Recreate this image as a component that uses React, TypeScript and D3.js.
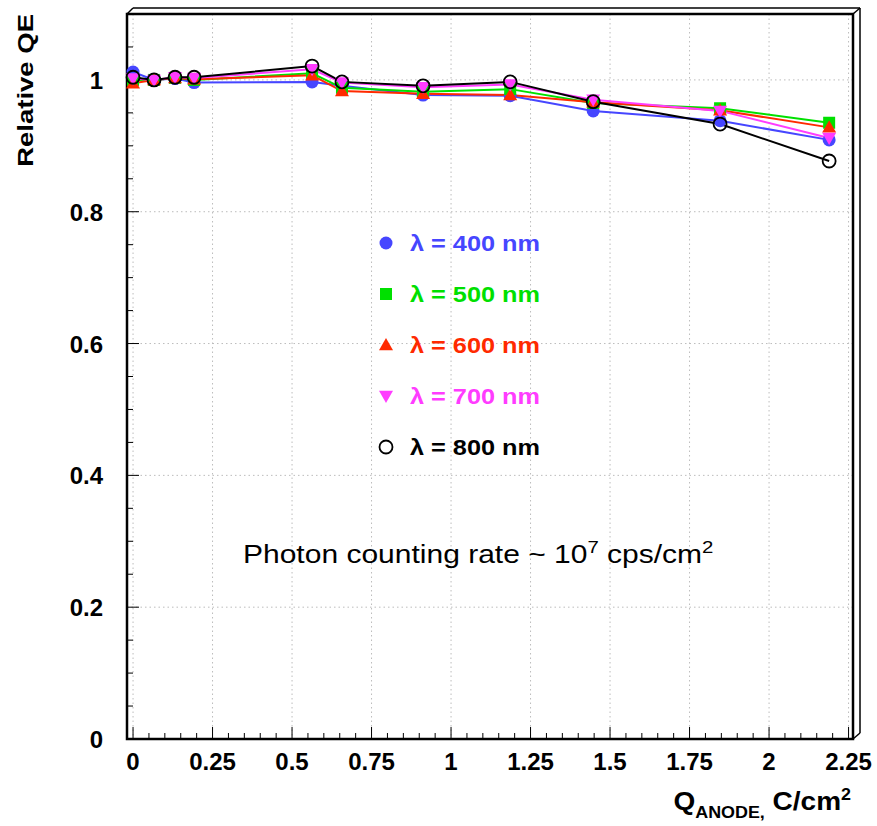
import React from "react";
import * as d3 from "d3";

const qAnode = [0, 0.066, 0.132, 0.192, 0.563, 0.657, 0.912, 1.186, 1.447, 1.846, 2.189];
const qe400 = [1.012, 1.0, 1.002, 0.996, 0.997, 0.991, 0.977, 0.976, 0.953, 0.938, 0.909];
const qe500 = [1.0, 1.0, 1.003, 1.0, 1.01, 0.988, 0.982, 0.986, 0.965, 0.957, 0.935];
const qe600 = [0.995, 1.0, 1.003, 1.001, 1.007, 0.983, 0.979, 0.977, 0.966, 0.954, 0.928];
const qe700 = [1.002, 1.0, 1.004, 1.003, 1.016, 0.996, 0.989, 0.993, 0.97, 0.953, 0.912];
const qe800 = [1.004, 1.0, 1.004, 1.004, 1.021, 0.997, 0.991, 0.997, 0.967, 0.933, 0.877];

const seriesNames = ["λ = 400 nm", "λ = 500 nm", "λ = 600 nm", "λ = 700 nm", "λ = 800 nm"];
const seriesColors = ["#4646ff", "#00e000", "#ff2a00", "#ff3cff", "#000000"];
const seriesMarkers = ["circle", "square", "triangleUp", "triangleDown", "openCircle"];
const seriesValues = [qe400, qe500, qe600, qe700, qe800];

const xTicks = [0, 0.25, 0.5, 0.75, 1, 1.25, 1.5, 1.75, 2, 2.25];
const xTickLabels = ["0", "0.25", "0.5", "0.75", "1", "1.25", "1.5", "1.75", "2", "2.25"];
const yTicks = [0, 0.2, 0.4, 0.6, 0.8, 1];
const yTickLabels = ["0", "0.2", "0.4", "0.6", "0.8", "1"];

const W = 877;
const H = 826;
const left = 127, right = 853, top = 14, bottom = 739;

const x = d3.scaleLinear().domain([-0.019, 2.264]).range([left, right]);
const y = d3.scaleLinear().domain([0, 1.1]).range([bottom, top]);

function Marker({ type, cx, cy, color }: { type: string; cx: number; cy: number; color: string }) {
  if (type === "circle") return <circle cx={cx} cy={cy} r={6.5} fill={color} />;
  if (type === "openCircle")
    return <circle cx={cx} cy={cy} r={6.5} fill="none" stroke={color} strokeWidth={1.8} />;
  if (type === "square") return <rect x={cx - 6} y={cy - 6} width={12} height={12} fill={color} />;
  const s = 7;
  if (type === "triangleUp")
    return <path d={`M${cx},${cy - s} L${cx + s},${cy + s * 0.75} L${cx - s},${cy + s * 0.75}Z`} fill={color} />;
  return <path d={`M${cx},${cy + s} L${cx + s},${cy - s * 0.75} L${cx - s},${cy - s * 0.75}Z`} fill={color} />;
}

export default function App() {
  const line = d3
    .line<number>()
    .x((_, i) => x(qAnode[i]))
    .y((d) => y(d));

  const xMinor = d3.range(0, 2.2501, 0.05);
  const yMinor = d3.range(0, 1.1001, 0.05);
  const font = "'Liberation Sans', Arial, Helvetica, sans-serif";
  const legendY = [243, 294, 345, 396, 447];

  return (
    <svg
      width={W}
      height={H}
      style={{ position: "absolute", left: 0, top: 0, background: "#fff" }}
      fontFamily={font}
    >
      <rect x={0} y={0} width={W} height={H} fill="#fff" />
      {/* grid */}
      <g stroke="#bcbcbc" strokeWidth={1} strokeDasharray="1.5,3">
        {xTicks.map((t) => (
          <line key={"gx" + t} x1={x(t)} x2={x(t)} y1={top} y2={bottom} />
        ))}
        {yTicks.map((t) => (
          <line key={"gy" + t} x1={left} x2={right} y1={y(t)} y2={y(t)} />
        ))}
      </g>
      {/* ticks */}
      <g stroke="#000" strokeWidth={1}>
        {xMinor.map((t, i) => {
          const major = i % 5 === 0;
          return <line key={"tx" + i} x1={x(t)} x2={x(t)} y1={bottom} y2={bottom - (major ? 12 : 6)} />;
        })}
        {yMinor.map((t, i) => {
          const major = i % 4 === 0;
          return <line key={"ty" + i} x1={left} x2={left + (major ? 12 : 6)} y1={y(t)} y2={y(t)} />;
        })}
      </g>
      {/* frame with 3D edge */}
      <g fill="none" stroke="#000">
        <line x1={left + 6} y1={top - 6} x2={right + 7} y2={top - 6} strokeWidth={1.5} />
        <line x1={right + 7} y1={top - 6} x2={right + 7} y2={bottom - 6} strokeWidth={1.5} />
        <line x1={left} y1={top} x2={left + 6} y2={top - 6} strokeWidth={1.5} />
        <line x1={right} y1={top} x2={right + 7} y2={top - 6} strokeWidth={1.5} />
        <line x1={right} y1={bottom} x2={right + 7} y2={bottom - 6} strokeWidth={1.5} />
        <rect x={left} y={top} width={right - left} height={bottom - top} strokeWidth={2.5} />
      </g>
      {/* series lines */}
      {seriesValues.map((vals, si) => (
        <path key={"l" + si} d={line(vals) || ""} fill="none" stroke={seriesColors[si]} strokeWidth={2} />
      ))}
      {/* markers */}
      {seriesValues.map((vals, si) => (
        <g key={"m" + si}>
          {vals.map((v, i) => (
            <Marker key={i} type={seriesMarkers[si]} cx={x(qAnode[i])} cy={y(v)} color={seriesColors[si]} />
          ))}
        </g>
      ))}
      {/* tick labels */}
      <g fontSize={24} fontWeight="bold" fill="#000">
        {xTicks.map((t, i) => (
          <text key={"xl" + i} x={x(t)} y={770} textAnchor="middle">
            {xTickLabels[i]}
          </text>
        ))}
        {yTicks.map((t, i) => (
          <text key={"yl" + i} x={103} y={y(t) + 9} textAnchor="end">
            {yTickLabels[i]}
          </text>
        ))}
      </g>
      {/* axis titles */}
      <text
        transform="translate(33,14) rotate(-90) scale(1.25,1)"
        textAnchor="end"
        fontSize={22}
        fontWeight="bold"
      >
        Relative QE
      </text>
      <g transform="translate(851,810) scale(1.12,1)">
        <text x={0} y={0} textAnchor="end" fontWeight="bold" fontSize={25}>
          Q<tspan fontSize={16} dy={8}>ANODE,</tspan>
          <tspan dy={-8}> C/cm</tspan>
          <tspan fontSize={16} dy={-10}>2</tspan>
        </text>
      </g>
      {/* annotation */}
      <g transform="translate(243,563) scale(1.2,1)">
        <text x={0} y={0} fontSize={25}>
          Photon counting rate ~ 10<tspan fontSize={17} dy={-10}>7</tspan>
          <tspan dy={10}> cps/cm</tspan>
          <tspan fontSize={17} dy={-10}>2</tspan>
        </text>
      </g>
      {/* legend */}
      {seriesNames.map((n, si) => (
        <g key={"lg" + si}>
          <Marker type={seriesMarkers[si]} cx={386} cy={legendY[si]} color={seriesColors[si]} />
          <g transform={`translate(410,${legendY[si] + 8}) scale(1.15,1)`}>
            <text x={0} y={0} fontSize={22} fontWeight="bold" fill={seriesColors[si]}>
              {n}
            </text>
          </g>
        </g>
      ))}
    </svg>
  );
}
